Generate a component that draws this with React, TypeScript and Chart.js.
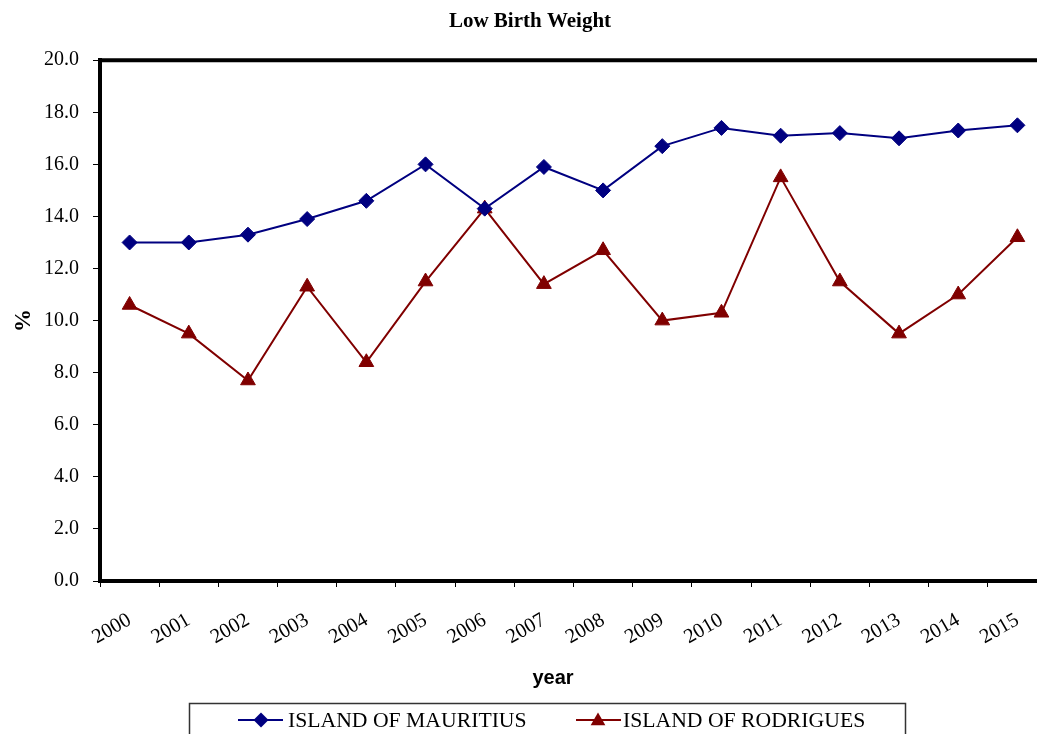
import React, { useEffect, useRef } from "react";
import { Chart, registerables } from "chart.js";

Chart.register(...registerables);

const chartTitle = "Low Birth Weight";
const xAxisTitle = "year";
const yAxisTitle = "%";
const years = ["2000", "2001", "2002", "2003", "2004", "2005", "2006", "2007", "2008", "2009", "2010", "2011", "2012", "2013", "2014", "2015"];
const seriesNames = ["ISLAND OF MAURITIUS", "ISLAND OF RODRIGUES"];
const mauritius = [13.0, 13.0, 13.3, 13.9, 14.6, 16.0, 14.3, 15.9, 15.0, 16.7, 17.4, 17.1, 17.2, 17.0, 17.3, 17.5];
const rodrigues = [10.6, 9.5, 7.7, 11.3, 8.4, 11.5, 14.3, 11.4, 12.7, 10.0, 10.3, 15.5, 11.5, 9.5, 11.0, 13.2];
const yMin = 0;
const yMax = 20;
const yStep = 2;

const SERIF = "'Liberation Serif', 'Times New Roman', serif";
const SANS = "'Liberation Sans', Arial, sans-serif";
const W = 1060;
const H = 745;

function drawMarker(ctx: CanvasRenderingContext2D, style: string, x: number, y: number, r: number, color: string) {
  ctx.save();
  ctx.fillStyle = color;
  ctx.beginPath();
  if (style === "rectRot") {
    ctx.moveTo(x - r, y);
    ctx.lineTo(x, y - r);
    ctx.lineTo(x + r, y);
    ctx.lineTo(x, y + r);
  } else {
    const a = -Math.PI / 2;
    for (let i = 0; i < 3; i++) {
      const ang = a + (i * 2 * Math.PI) / 3;
      const px = x + Math.cos(ang) * r;
      const py = y + Math.sin(ang) * r;
      if (i === 0) ctx.moveTo(px, py);
      else ctx.lineTo(px, py);
    }
  }
  ctx.closePath();
  ctx.fill();
  ctx.restore();
}

const framePlugin = {
  id: "frame",
  beforeDatasetsDraw(chart: any) {
    const { ctx, chartArea } = chart;
    ctx.save();
    ctx.strokeStyle = "#000";
    ctx.lineWidth = 4;
    ctx.beginPath();
    ctx.moveTo(chartArea.left - 2, chartArea.top);
    ctx.lineTo(chartArea.right, chartArea.top);
    ctx.lineTo(chartArea.right, chartArea.bottom);
    ctx.stroke();
    ctx.restore();
  },
  afterDraw(chart: any) {
    const { ctx } = chart;
    ctx.save();
    // x axis title
    ctx.fillStyle = "#000";
    ctx.font = `bold 20px ${SANS}`;
    ctx.textAlign = "center";
    ctx.textBaseline = "middle";
    ctx.fillText(xAxisTitle, 553, 678);
    // legend box
    ctx.strokeStyle = "#333";
    ctx.lineWidth = 1.5;
    ctx.strokeRect(189.5, 703.5, 716, 60);
    const items = [
      { lx: 238, mx: 261, tx: 288 },
      { lx: 576, mx: 598, tx: 623 },
    ];
    chart.data.datasets.forEach((ds: any, i: number) => {
      const it = items[i];
      const y = 720;
      ctx.strokeStyle = ds.borderColor;
      ctx.lineWidth = 2;
      ctx.beginPath();
      ctx.moveTo(it.lx, y);
      ctx.lineTo(it.lx + 45, y);
      ctx.stroke();
      drawMarker(ctx, ds.pointStyle, it.mx, ds.pointStyle === "triangle" ? y + 1 : y, ds.pointRadius, ds.borderColor);
      ctx.fillStyle = "#000";
      ctx.font = `21.7px ${SERIF}`;
      ctx.textAlign = "left";
      ctx.textBaseline = "middle";
      ctx.fillText(ds.label, it.tx, y + 1);
    });
    ctx.restore();
  },
};

export default function App() {
  const ref = useRef<HTMLCanvasElement | null>(null);
  useEffect(() => {
    if (!ref.current) return;
    const chart = new Chart(ref.current, {
      type: "line",
      data: {
        labels: years,
        datasets: [
          {
            label: seriesNames[0],
            data: mauritius,
            borderColor: "#000080",
            backgroundColor: "#000080",
            borderWidth: 2,
            pointStyle: "rectRot",
            pointRadius: 7.5,
            pointBorderWidth: 1,
            tension: 0,
          },
          {
            label: seriesNames[1],
            data: rodrigues,
            borderColor: "#800000",
            backgroundColor: "#800000",
            borderWidth: 2,
            pointStyle: "triangle",
            pointRadius: 8.5,
            pointBorderWidth: 1,
            tension: 0,
          },
        ],
      },
      options: {
        responsive: false,
        animation: false,
        devicePixelRatio: 1,
        layout: { padding: { left: 13, right: 13, top: 0, bottom: 0 } },
        plugins: {
          legend: { display: false },
          tooltip: { enabled: false },
          title: {
            display: true,
            text: chartTitle,
            color: "#000",
            font: { family: SERIF, size: 21, weight: "bold" },
            padding: { top: 9, bottom: 26 },
          },
        },
        scales: {
          x: {
            offset: true,
            grid: { display: true, drawOnChartArea: false, offset: true, tickLength: 6, color: "#000", lineWidth: 1 },
            border: { display: true, color: "#000", width: 4 },
            ticks: {
              color: "#000",
              font: { family: SERIF, size: 20.5 },
              minRotation: 30,
              maxRotation: 30,
              padding: 21,
              autoSkip: false,
            },
            afterFit(scale: any) {
              scale.height = H - 581;
            },
          },
          y: {
            min: yMin,
            max: yMax,
            grid: { display: true, drawOnChartArea: false, tickLength: 7, color: "#000", lineWidth: 1 },
            border: { display: true, color: "#000", width: 4 },
            ticks: {
              stepSize: yStep,
              color: "#000",
              font: { family: SERIF, size: 20 },
              padding: 14,
              callback: (v: any) => Number(v).toFixed(1),
            },
            title: {
              display: true,
              text: yAxisTitle,
              color: "#000",
              font: { family: SERIF, size: 23, weight: "bold", lineHeight: 1 },
              padding: { top: 0, bottom: 0 },
            },
            afterFit(scale: any) {
              scale.width = 87;
            },
          },
        },
      },
      plugins: [framePlugin],
    } as any);
    return () => chart.destroy();
  }, []);
  return (
    <div style={{ position: "fixed", left: 0, top: 0, width: 1037, height: 734, overflow: "hidden", background: "#fff" }}>
      <canvas ref={ref} width={W} height={H} style={{ display: "block", width: W, height: H }} />
    </div>
  );
}
